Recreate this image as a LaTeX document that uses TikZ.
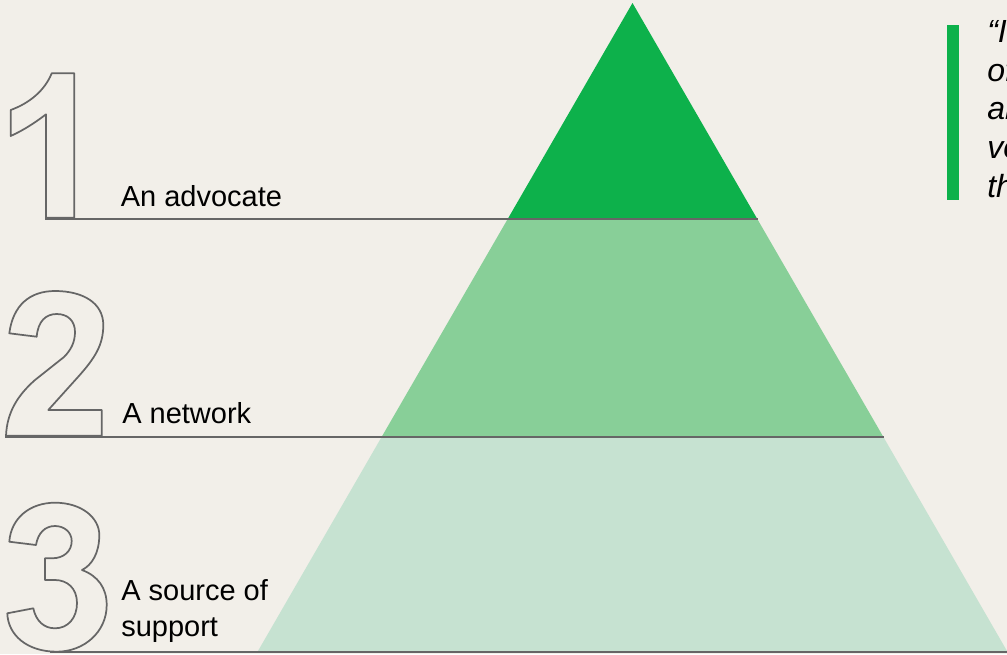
\documentclass[tikz,border=0pt]{standalone}
\usepackage{fontspec}
\setmainfont{Liberation Sans}
\usetikzlibrary{positioning}
\definecolor{paper}{HTML}{F2EFE9}
\definecolor{topgreen}{HTML}{0DB14B}
\definecolor{midgreen}{HTML}{88CF98}
\definecolor{basegreen}{HTML}{C6E2D1}
\definecolor{rulegray}{HTML}{666666}

\begin{document}
\begin{tikzpicture}[
    x=0.75pt, y=-0.75pt,
    tier/.style={font=\fontsize{21.75}{27}\selectfont, anchor=base west,
                 inner sep=0pt, align=left},
    quote/.style={font=\fontsize{24}{28.9}\selectfont\itshape,
                  anchor=base west, inner sep=0pt, align=left},
    numeral/.style={draw=rulegray, line width=1.3pt, line join=round},
    rule/.style={draw=rulegray, line width=1.5pt}
  ]
  \fill[paper] (0,0) rectangle (1007,654);
  \useasboundingbox (0,0) rectangle (1007,654);
  \clip (0,0) rectangle (1007,654);

  % Pyramid tiers
  \coordinate (apex) at (632.5,3);
  \fill[basegreen] (381.6,437) -- (883.4,437) -- (1007.6,652) -- (257.4,652) -- cycle;
  \fill[midgreen] (507.7,219) -- (757.3,219) -- (883.4,437) -- (381.6,437) -- cycle;
  \fill[topgreen] (apex) -- (757.3,219) -- (507.7,219) -- cycle;

  % Rules under each tier
  \coordinate (r1a) at (45,219);  \coordinate (r1b) at (758,219);
  \coordinate (r2a) at (5,437);   \coordinate (r2b) at (884,437);
  \coordinate (r3a) at (50,652);  \coordinate (r3b) at (1007,652);
  \draw[rule] (r1a) -- (r1b);
  \draw[rule] (r2a) -- (r2b);
  \draw[rule] (r3a) -- (r3b);

  % Outlined numerals
  \draw[numeral] (74.3,73.3) -- (74.3,217.7) -- (46,217.7) -- (46,114.3)
    .. controls (36,122) and (24,130) .. (10.7,136) -- (10.7,110)
    .. controls (30,103) and (45,90) .. (51.7,73.3) -- cycle;

  \draw[numeral] (9.3,333.3) -- (36.7,336.7)
    .. controls (38,321) and (46,314) .. (56.7,314)
    .. controls (68,314) and (75,321) .. (75,332)
    .. controls (75,342) and (71,350) .. (64,357)
    -- (35,380)
    .. controls (18,395) and (7,412) .. (6,435.7)
    -- (101.7,435.7) -- (101.7,410) -- (48.3,410) -- (78,377)
    .. controls (95,358) and (103.3,345) .. (103.3,325)
    .. controls (103.3,303) and (83,291) .. (55,291)
    .. controls (30,291) and (13,305) .. (9.3,333.3) -- cycle;

  \draw[numeral] (9.3,541.7)
    .. controls (11,518) and (30,502.7) .. (55,502.7)
    .. controls (82,502.7) and (99.3,518) .. (99.3,535)
    .. controls (99.3,553) and (92,565) .. (82,570)
    .. controls (98,576) and (106.7,588) .. (106.7,605)
    .. controls (106.7,632) and (84,651.7) .. (56.7,651.7)
    .. controls (27,651.7) and (8,635) .. (7.3,613.3) -- (33.3,608.3)
    .. controls (36,621) and (44,628.3) .. (55,628.3)
    .. controls (68,628.3) and (77,618) .. (77,603)
    .. controls (77,588) and (67,580) .. (55,580)
    -- (45,580) -- (45,558.3) -- (52,558.3)
    .. controls (64,558.3) and (71.7,551) .. (71.7,541)
    .. controls (71.7,532) and (64,526) .. (55,526)
    .. controls (45,526) and (38,533) .. (36,545) -- cycle;

  % Tier labels
  \node[tier] (advocate) at (120.5,206.7) {An advocate};
  \node[tier] (network) at (122,423.3) {A network};
  \node[tier] (source) at (121,636.7) {A source of\\support};

  % Quote on the right
  \fill[topgreen] (947,25) rectangle (959,200);
  \node[quote] (quotetext) at (987,197) {“It’s\\often\\and\\voice\\the};
\end{tikzpicture}
\end{document}
